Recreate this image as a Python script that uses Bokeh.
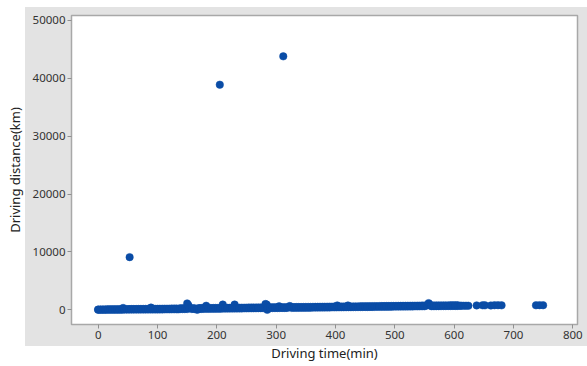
from bokeh.plotting import figure
from bokeh.models import FixedTicker, Range1d
from bokeh.embed import file_html
from bokeh.resources import INLINE

# Driving time (min) and driving distance (km)
time_min = [
    0, 0, 4, 4, 8, 8, 12, 12, 16, 16,
    20, 20, 24, 24, 28, 28, 32, 32, 36, 36,
    40, 40, 42, 44, 44, 48, 48, 52, 52, 56,
    56, 60, 60, 64, 64, 68, 68, 72, 72, 76,
    76, 80, 80, 84, 84, 88, 89, 92, 92, 96,
    96, 100, 100, 104, 104, 108, 108, 112, 112, 116,
    116, 120, 120, 124, 124, 128, 128, 132, 132, 135,
    138, 138, 142, 142, 146, 146, 150, 150, 152, 154,
    158, 158, 162, 162, 166, 167, 170, 170, 174, 174,
    178, 178, 182, 182, 186, 186, 190, 190, 194, 194,
    198, 198, 202, 202, 206, 206, 210, 210, 214, 214,
    218, 218, 222, 222, 226, 226, 230, 230, 234, 234,
    238, 238, 242, 242, 246, 246, 250, 250, 254, 254,
    258, 258, 262, 262, 266, 266, 270, 270, 274, 274,
    278, 278, 282, 284, 285, 286, 290, 290, 294, 294,
    298, 298, 302, 302, 305, 306, 310, 310, 314, 314,
    318, 318, 322, 323, 326, 326, 330, 330, 334, 334,
    338, 338, 342, 342, 346, 346, 350, 350, 354, 354,
    358, 358, 362, 362, 366, 366, 370, 370, 374, 374,
    378, 378, 382, 382, 386, 386, 390, 390, 394, 394,
    398, 398, 402, 403, 406, 406, 410, 410, 414, 414,
    418, 418, 421, 422, 426, 426, 430, 430, 434, 434,
    438, 438, 442, 442, 446, 446, 450, 450, 454, 454,
    458, 458, 462, 462, 466, 466, 470, 470, 474, 474,
    478, 478, 482, 482, 486, 486, 490, 490, 494, 494,
    498, 498, 502, 502, 506, 506, 510, 510, 514, 514,
    518, 518, 522, 522, 526, 526, 530, 530, 534, 534,
    538, 538, 542, 542, 546, 546, 550, 550, 554, 557,
    558, 560, 562, 562, 566, 566, 570, 570, 574, 574,
    578, 578, 582, 582, 586, 586, 590, 590, 594, 594,
    598, 598, 602, 602, 606, 606, 610, 612, 616, 620,
    624, 638, 648, 652, 662, 668, 674, 680,
    738, 744, 750,
    53, 205, 312,
]
distance_km = [
    5, 40, 8, 55, 10, 60, 12, 70, 15, 75,
    18, 80, 20, 85, 22, 90, 25, 95, 28, 100,
    30, 105, 320, 32, 110, 35, 115, 38, 120, 40,
    125, 42, 130, 45, 135, 48, 140, 50, 145, 52,
    150, 55, 155, 58, 160, 60, 380, 62, 165, 65,
    170, 68, 175, 70, 180, 72, 185, 75, 190, 78,
    195, 80, 200, 82, 205, 85, 210, 88, 215, 90,
    120, 260, 125, 265, 130, 270, 1100, 135, 800, 275,
    140, 280, 145, 285, 150, 0, 155, 290, 160, 295,
    165, 300, 700, 170, 305, 175, 310, 180, 315, 185,
    320, 190, 325, 195, 330, 200, 900, 205, 335, 210,
    340, 215, 345, 220, 350, 225, 900, 230, 355, 235,
    360, 240, 365, 245, 370, 250, 375, 255, 380, 260,
    385, 265, 390, 270, 395, 275, 400, 280, 405, 285,
    410, 290, 1000, 900, 0, 415, 295, 420, 300, 425,
    305, 430, 310, 435, 600, 315, 440, 320, 445, 325,
    450, 330, 455, 650, 335, 460, 340, 465, 345, 470,
    350, 475, 355, 480, 360, 485, 365, 490, 370, 495,
    375, 500, 380, 505, 385, 510, 390, 515, 395, 520,
    400, 525, 405, 530, 410, 535, 415, 540, 420, 545,
    425, 550, 430, 750, 435, 555, 440, 560, 445, 565,
    450, 570, 750, 455, 575, 460, 580, 465, 585, 470,
    590, 475, 595, 480, 600, 485, 605, 490, 610, 495,
    615, 500, 620, 505, 625, 510, 630, 515, 635, 520,
    640, 525, 645, 530, 650, 535, 655, 540, 660, 545,
    665, 550, 670, 555, 675, 560, 680, 565, 685, 570,
    690, 575, 695, 580, 700, 585, 705, 590, 710, 595,
    715, 600, 720, 605, 725, 610, 730, 615, 735, 1150,
    1000, 740, 620, 745, 625, 750, 630, 755, 635, 760,
    640, 760, 645, 760, 650, 765, 655, 765, 660, 770,
    665, 770, 670, 775, 675, 775, 680, 720, 700, 710,
    705, 760, 780, 770, 740, 790, 800, 770,
    780, 800, 790,
    9100, 38900, 43800,
]

x_ticks = [0, 100, 200, 300, 400, 500, 600, 700, 800]
y_ticks = [0, 10000, 20000, 30000, 40000, 50000]

GRAY = "#e3e3e3"
FONT = "Noto Sans"

p = figure(width=587, height=366, output_backend="svg", toolbar_location=None,
           x_range=Range1d(-45, 808), y_range=Range1d(-2540, 50860),
           min_border_left=71, min_border_right=10, min_border_top=15, min_border_bottom=42,
           border_fill_color=None, background_fill_color="white",
           outline_line_color="#a8a8a8", outline_line_width=1.5)

# gray panel behind the chart, white outside it (CSS background of the figure element)
p.styles = {
    "background": f"linear-gradient({GRAY}, {GRAY}) 25px 7px / 562px 339px no-repeat, white",
}

p.scatter(time_min, distance_km, size=7.5, marker="circle",
          fill_color="#0a4ca6", line_color="#0a4ca6", line_width=0.5)

p.grid.visible = False
p.xaxis.ticker = FixedTicker(ticks=x_ticks)
p.yaxis.ticker = FixedTicker(ticks=y_ticks)
for ax in (p.xaxis, p.yaxis):
    ax.axis_line_color = None
    ax.major_tick_line_color = "#909090"
    ax.major_tick_out = 4
    ax.major_tick_in = 0
    ax.minor_tick_line_color = None
    ax.major_label_text_font = FONT
    ax.major_label_text_font_size = "11.5px"
    ax.major_label_text_color = "#333333"
    ax.axis_label_text_font = FONT
    ax.axis_label_text_font_size = "13px"
    ax.axis_label_text_font_style = "normal"
    ax.axis_label_text_color = "#222222"
    ax.major_label_standoff = 2

p.xaxis.axis_label = "Driving time(min)"
p.yaxis.axis_label = "Driving distance(km)"
p.xaxis.axis_label_standoff = 2
p.yaxis.axis_label_standoff = 6

open("out.html", "w").write(file_html(p, INLINE))
